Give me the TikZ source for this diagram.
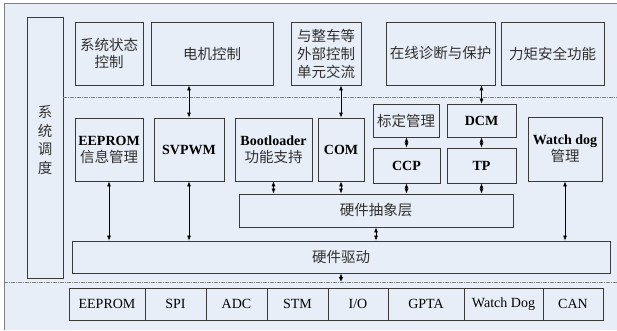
\documentclass[tikz,border=0pt]{standalone}
\usepackage{fontspec}
\setmainfont{Liberation Serif}
\newfontfamily\cjk{Noto Sans CJK SC}
\usetikzlibrary{arrows.meta}
\definecolor{panel}{HTML}{E8EEF7}
\definecolor{edge}{HTML}{3A3A3A}
\definecolor{frameline}{HTML}{808080}
\definecolor{cjktext}{HTML}{303030}
\tikzset{
  blk/.style={draw=edge, line width=0.8pt, fill=panel, inner sep=1pt, align=center,
    font=\fontsize{14}{17}\selectfont},
  cnblk/.style={blk, font=\fontsize{14.5}{17}\selectfont\cjk, text=cjktext},
  rowcell/.style={blk, minimum height=32pt},
  dbl/.style={{Latex[length=5pt,width=4pt]}-{Latex[length=5pt,width=4pt]}, line width=0.7pt, draw=black},
  sep/.style={draw=frameline, line width=0.9pt, dash pattern=on 4pt off 1pt on 1pt off 1pt}
}
\newcommand{\cntext}[1]{{\fontsize{14.5}{17}\selectfont\cjk\color{cjktext}#1}}
\begin{document}
\begin{tikzpicture}[x=1pt,y=-1pt]
\useasboundingbox (0,0) rectangle (617,330);
% panel and its frame
\fill[white] (0,0) rectangle (617,330);
\fill[panel] (4,3) rectangle (617,330);
\draw[frameline, line width=1pt] (4,330) -- (4,3) -- (617,3);

% scheduler column
\node[blk, minimum width=36pt, minimum height=261pt] (sched) at (45,147.5) {};
\node[align=center, text=cjktext, font=\fontsize{14.5}{18.5}\selectfont\cjk] (schedtxt) at (45,140) {系\\统\\调\\度};

% application layer
\node[cnblk, minimum width=68pt, minimum height=63pt] (state) at (109,53.5) {系统状态\\控制};
\node[cnblk, minimum width=122pt, minimum height=63pt] (motor) at (212,53.5) {电机控制};
\node[cnblk, minimum width=70pt, minimum height=63pt, font=\fontsize{14.5}{18}\selectfont\cjk] (ext) at (326,53.5) {与整车等\\外部控制\\单元交流};
\node[cnblk, minimum width=109pt, minimum height=63pt] (diag) at (440.5,53.5) {在线诊断与保护};
\node[cnblk, minimum width=103pt, minimum height=63pt] (torque) at (552.5,53.5) {力矩安全功能};

% service layer
\node[blk, minimum width=68pt, minimum height=63pt] (eepmgr) at (109,149.5) {{\bfseries EEPROM}\\\cntext{信息管理}};
\node[blk, minimum width=70pt, minimum height=63pt] (svpwm) at (189,149.5) {\bfseries SVPWM};
\node[blk, minimum width=77pt, minimum height=63pt] (boot) at (273.5,149.5) {{\bfseries Bootloader}\\\cntext{功能支持}};
\node[blk, minimum width=46pt, minimum height=63pt] (com) at (341,149.5) {\bfseries COM};
\node[cnblk, minimum width=66pt, minimum height=33pt] (calib) at (406,120.5) {标定管理};
\node[blk, minimum width=69pt, minimum height=33pt] (dcm) at (481.5,120.5) {\bfseries DCM};
\node[blk, minimum width=67pt, minimum height=35pt] (ccp) at (406.5,165.5) {\bfseries CCP};
\node[blk, minimum width=69pt, minimum height=35pt] (tp) at (481.5,165.5) {\bfseries TP};
\node[blk, minimum width=74pt, minimum height=64pt] (wdm) at (565,149) {{\bfseries Watch dog}\\\cntext{管理}};

% abstraction and driver layers
\node[cnblk, minimum width=274pt, minimum height=33pt] (hal) at (376,210.5) {硬件抽象层};
\node[cnblk, minimum width=538pt, minimum height=32pt] (drv) at (341,257) {硬件驱动};

% peripheral row
\node[rowcell, minimum width=76pt] (p1) at (107,304) {EEPROM};
\node[rowcell, minimum width=61pt] (p2) at (175.5,304) {SPI};
\node[rowcell, minimum width=61pt] (p3) at (236.5,304) {ADC};
\node[rowcell, minimum width=61pt] (p4) at (297.5,304) {STM};
\node[rowcell, minimum width=60pt] (p5) at (358,304) {I/O};
\node[rowcell, minimum width=76pt] (p6) at (426,304) {GPTA};
\node[rowcell, minimum width=79pt] (p7) at (503.5,304) {Watch Dog};
\node[rowcell, minimum width=60pt] (p8) at (573,304) {CAN};

% layer separators
\coordinate (sepA) at (617,97);
\coordinate (sepB0) at (4,282);
\coordinate (sepB1) at (617,282);
\draw[sep] (sched.east |- sepA) -- (sepA);
\draw[sep] (sepB0) -- (sepB1);

% connectors
\draw[dbl] (svpwm.north |- motor.south) -- (svpwm.north);
\draw[dbl] (com.north |- ext.south) -- (com.north);
\draw[dbl] (dcm.north |- diag.south) -- (dcm.north);
\draw[dbl] (calib.south -| ccp.north) -- (ccp.north);
\draw[dbl] (dcm.south) -- (tp.north -| dcm.south);
\draw[dbl] (boot.south) -- (hal.north -| boot.south);
\draw[dbl] (com.south) -- (hal.north -| com.south);
\draw[dbl] (ccp.south) -- (hal.north -| ccp.south);
\draw[dbl] (tp.south) -- (hal.north -| tp.south);
\draw[dbl] (eepmgr.south) -- (drv.north -| eepmgr.south);
\draw[dbl] (svpwm.south) -- (drv.north -| svpwm.south);
\draw[dbl] (hal.south) -- (drv.north -| hal.south);
\draw[dbl] (wdm.south) -- (drv.north -| wdm.south);
\coordinate (busend) at (341,282);
\draw[dbl] (drv.south) -- (busend);
\end{tikzpicture}
\end{document}
